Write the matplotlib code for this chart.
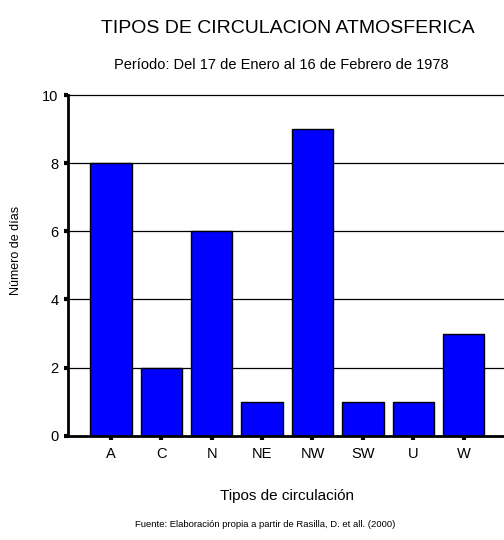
import matplotlib
matplotlib.use("Agg")
import matplotlib.pyplot as plt

# Días por tipo de circulación (17 ene - 16 feb 1978)
tipos = ["A", "C", "N", "NE", "NW", "SW", "U", "W"]
dias = [8, 2, 6, 1, 9, 1, 1, 3]
yticks = [0, 2, 4, 6, 8, 10]

plt.rcParams["font.family"] = ["Liberation Sans", "DejaVu Sans"]

fig = plt.figure(figsize=(5.04, 5.40), dpi=100)
ax = fig.add_axes([0.135, 0.193, 0.865, 0.631])

ax.bar(range(len(tipos)), dias, width=0.82, color="#0000FF",
       edgecolor="black", linewidth=1.0, zorder=3)

# horizontal reference lines
for v in yticks[1:]:
    ax.axhline(v, color="black", linewidth=0.9, zorder=1, clip_on=False)

ax.set_xlim(-0.85, 7.8)
ax.set_ylim(0, 10)
ax.set_xticks(range(len(tipos)))
ax.set_xticklabels(tipos, fontsize=10.5)
ax.set_yticks(yticks)
ax.set_yticklabels([str(v) for v in yticks], fontsize=10.5)
ax.tick_params(axis="both", direction="out", length=3, width=3, color="black")
ax.tick_params(axis="x", pad=5)
ax.tick_params(axis="y", pad=4)

for s in ("top", "right"):
    ax.spines[s].set_visible(False)
for s in ("left", "bottom"):
    ax.spines[s].set_linewidth(2)
    ax.spines[s].set_zorder(4)

fig.text(0.032, 0.537, "Número de días", rotation=90, ha="center",
         va="center", fontsize=9)

fig.text(0.571, 0.948, "TIPOS DE CIRCULACION ATMOSFERICA", ha="center",
         va="center", fontsize=14)
fig.text(0.559, 0.880, "Período: Del 17 de Enero al 16 de Febrero de 1978",
         ha="center", va="center", fontsize=10.5)
fig.text(0.570, 0.082, "Tipos de circulación", ha="center", va="center",
         fontsize=11)
fig.text(0.527, 0.029, "Fuente: Elaboración propia a partir de Rasilla, D. et all. (2000)",
         ha="center", va="center", fontsize=6.8)

fig.savefig("out.png", dpi=100)
